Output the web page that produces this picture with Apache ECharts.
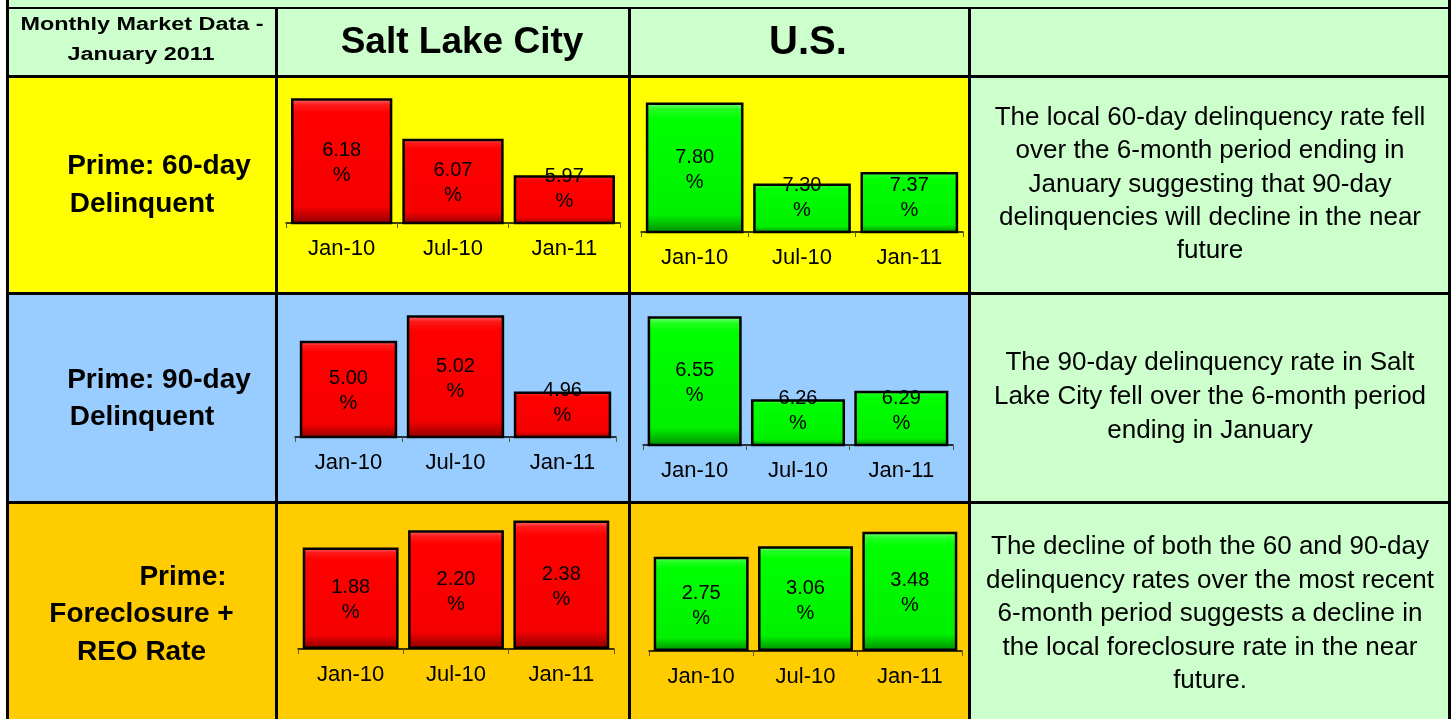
<!DOCTYPE html>
<html>
<head>
<meta charset="utf-8">
<script src="https://cdn.jsdelivr.net/npm/echarts@6/dist/echarts.min.js"></script>
<style>
html,body{margin:0;padding:0;background:#fff;}
#chart{width:1454px;height:719px;}
</style>
</head>
<body>
<div id="chart"></div>
<script>
// ---- data ----
const categories = ['Jan-10', 'Jul-10', 'Jan-11'];
const slc60 = [6.18, 6.07, 5.97];
const us60 = [7.80, 7.30, 7.37];
const slc90 = [5.00, 5.02, 4.96];
const us90 = [6.55, 6.26, 6.29];
const slcForeclosure = [1.88, 2.20, 2.38];
const usForeclosure = [2.75, 3.06, 3.48];

const headerTitle = ['Monthly Market Data -', 'January 2011'];
const columnTitles = ['Salt Lake City', 'U.S.'];
const rowTitles = [
  ['Prime: 60-day', 'Delinquent'],
  ['Prime: 90-day', 'Delinquent'],
  ['Prime:', 'Foreclosure +', 'REO Rate']
];
const comments = [
  ['The local 60-day delinquency rate fell', 'over the 6-month period ending in', 'January suggesting that 90-day', 'delinquencies will decline in the near', 'future'],
  ['The 90-day delinquency rate in Salt', 'Lake City fell over the 6-month period', 'ending in January'],
  ['The decline of both the 60 and 90-day', 'delinquency rates over the most recent', '6-month period suggests a decline in', 'the local foreclosure rate in the near', 'future.']
];

// ---- layout / style ----
const FONT = '"Liberation Sans", Arial, Helvetica, sans-serif';
const YELLOW = '#FFFF00', BLUE = '#99CCFF', ORANGE = '#FFCC00', LGREEN = '#CCFFCC';

const redFill = new echarts.graphic.LinearGradient(0, 0, 0, 1, [
  {offset: 0, color: '#ff7a7a'}, {offset: 0.05, color: '#ff1a1a'},
  {offset: 0.12, color: '#ff0000'}, {offset: 0.86, color: '#f50000'},
  {offset: 1, color: '#8c0000'}
]);
const greenFill = new echarts.graphic.LinearGradient(0, 0, 0, 1, [
  {offset: 0, color: '#8dff8d'}, {offset: 0.05, color: '#22ff22'},
  {offset: 0.12, color: '#00ff00'}, {offset: 0.86, color: '#00f000'},
  {offset: 1, color: '#008a00'}
]);

// panel geometry: axis left/right x, axis baseline y, value range and top
const panels = [
  {data: slc60, fill: redFill,   left: 286, right: 620, axisY: 223, min: 5.84,  max: 6.2,  top: 91},
  {data: us60,  fill: greenFill, left: 641, right: 963, axisY: 232, min: 7.0,   max: 8.0,  top: 70},
  {data: slc90, fill: redFill,   left: 295, right: 616, axisY: 437, min: 4.924, max: 5.04, top: 290},
  {data: us90,  fill: greenFill, left: 643, right: 953, axisY: 445, min: 6.1,   max: 6.6,  top: 302},
  {data: slcForeclosure, fill: redFill,   left: 298, right: 614, axisY: 649, min: 0, max: 2.5, top: 514},
  {data: usForeclosure,  fill: greenFill, left: 649, right: 962, axisY: 651, min: 0, max: 4,   top: 514}
];

const grid = [], xAxis = [], yAxis = [], series = [];
panels.forEach((p, i) => {
  grid.push({left: p.left, width: p.right - p.left, top: p.top, height: p.axisY - p.top, containLabel: false});
  xAxis.push({
    type: 'category', gridIndex: i, data: categories,
    axisLine: {show: true, lineStyle: {color: '#000', width: 1.5}},
    axisTick: {show: true, length: 5, lineStyle: {color: '#5a5a2a', width: 1}},
    axisLabel: {color: '#000', fontSize: 22, fontFamily: FONT, margin: 15},
    z: 3
  });
  yAxis.push({
    type: 'value', gridIndex: i, min: p.min, max: p.max, show: false,
    splitLine: {show: false}
  });
  series.push({
    type: 'bar', xAxisIndex: i, yAxisIndex: i, data: p.data,
    barCategoryGap: '9%', clip: true,
    itemStyle: {color: p.fill, borderColor: '#000', borderWidth: 2.5},
    label: {
      show: true, position: 'inside', color: '#000', fontSize: 20, fontFamily: FONT,
      lineHeight: 25, formatter: (d) => d.value.toFixed(2) + '\n%'
    },
    labelLayout: function (params) {
      const lc = params.labelRect.y + params.labelRect.height / 2;
      const lim = params.rect.y + params.rect.height - 35;
      let dy = 2;
      if (lc + dy > lim) dy = lim - lc;
      return {dy: dy};
    },
    z: 2
  });
});

// ---- table graphics ----
const g = [];
function rect(x, y, w, h, color, z) {
  g.push({type: 'rect', silent: true, z: z, shape: {x: x, y: y, width: w, height: h}, style: {fill: color}});
}
function text(x, y, str, size, weight, opts) {
  opts = opts || {};
  g.push({
    type: 'text', silent: true, z: 20, x: x, y: y, scaleX: opts.scaleX || 1,
    style: {
      text: str, fill: '#000', align: 'center', verticalAlign: 'middle',
      fontSize: size, fontWeight: weight, fontFamily: FONT,
      lineHeight: opts.lineHeight || size * 1.2
    }
  });
}
// backgrounds
rect(8, 0, 1442, 78, LGREEN, -20);
rect(8, 76, 270, 218, YELLOW, -20);
rect(277, 76, 353, 218, YELLOW, -20);
rect(629, 76, 341, 218, YELLOW, -20);
rect(969, 76, 481, 218, LGREEN, -20);
rect(8, 293, 270, 210, BLUE, -20);
rect(277, 293, 353, 210, BLUE, -20);
rect(629, 293, 341, 210, BLUE, -20);
rect(969, 293, 481, 210, LGREEN, -20);
rect(8, 502, 270, 217, ORANGE, -20);
rect(277, 502, 353, 217, ORANGE, -20);
rect(629, 502, 341, 217, ORANGE, -20);
rect(969, 502, 481, 217, LGREEN, -20);
// borders
rect(6, 0, 3, 719, '#000', 30);
rect(275, 7, 3, 712, '#000', 30);
rect(628, 7, 3, 712, '#000', 30);
rect(968, 7, 3, 712, '#000', 30);
rect(1448, 0, 3, 719, '#000', 30);
rect(6, 7, 1445, 2, '#000', 30);
rect(6, 75, 1445, 3, '#000', 30);
rect(6, 292, 1445, 3, '#000', 30);
rect(6, 501, 1445, 3, '#000', 30);

// header texts
text(142, 25, headerTitle[0], 18, 'bold', {scaleX: 1.3});
text(141, 55, headerTitle[1], 18, 'bold', {scaleX: 1.3});
text(462, 43, columnTitles[0], 37, 'bold');
text(808, 43, columnTitles[1], 40, 'bold');

// row titles
text(159, 166, rowTitles[0][0], 28, 'bold');
text(142, 204, rowTitles[0][1], 28, 'bold');
text(159, 380, rowTitles[1][0], 28, 'bold');
text(142, 417, rowTitles[1][1], 28, 'bold');
text(183, 577, rowTitles[2][0], 28, 'bold');
text(141.5, 614, rowTitles[2][1], 28, 'bold');
text(141.5, 652, rowTitles[2][2], 28, 'bold');

// comments
text(1210, 184.5, comments[0].join('\n'), 26, 'normal', {lineHeight: 33.3});
text(1210, 397, comments[1].join('\n'), 26, 'normal', {lineHeight: 34});
text(1210, 614, comments[2].join('\n'), 26, 'normal', {lineHeight: 33.5});

const chart = echarts.init(document.getElementById('chart'), null, {renderer: 'canvas'});
chart.setOption({
  animation: false,
  backgroundColor: '#fff',
  grid: grid, xAxis: xAxis, yAxis: yAxis, series: series,
  graphic: {elements: g}
});
</script>
</body>
</html>
